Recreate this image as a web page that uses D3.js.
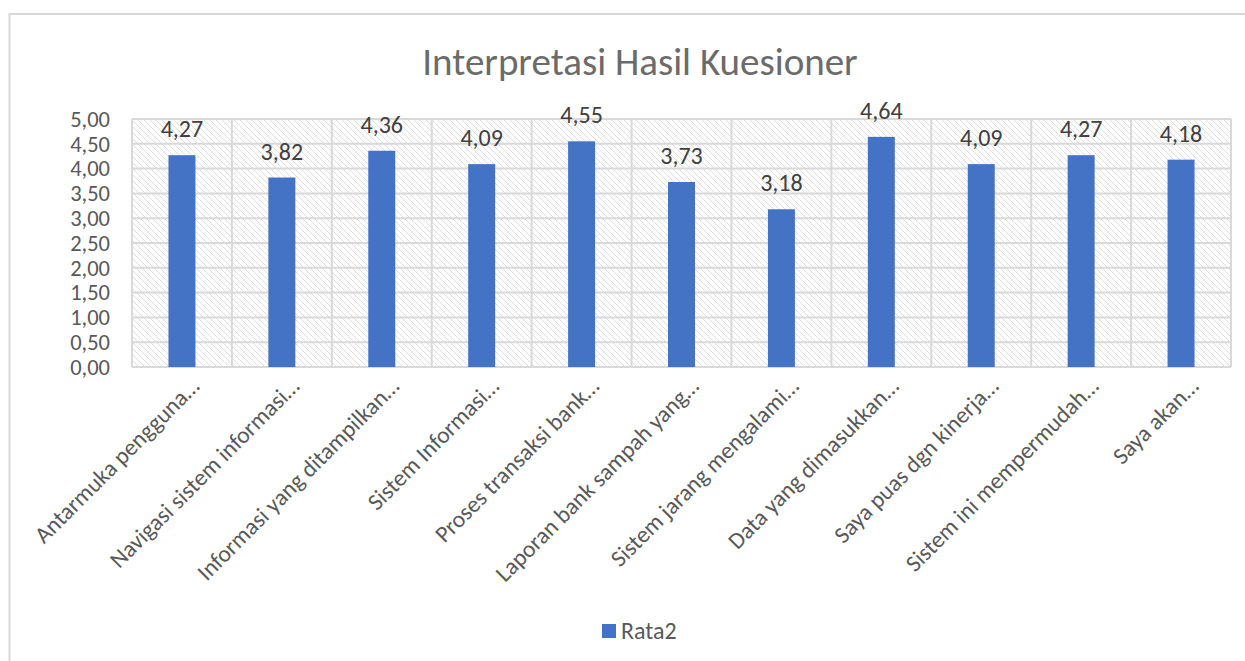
<!DOCTYPE html>
<html><head><meta charset="utf-8">
<script src="https://cdn.jsdelivr.net/npm/d3@7"></script>
<style>body{margin:0;background:#fff;}svg{display:block;font-family:Carlito,Lato,sans-serif;}</style>
</head><body>
<svg id="c" width="1245" height="661"></svg>
<script>
const title = "Interpretasi Hasil Kuesioner";
const categories = [
  "Antarmuka pengguna…",
  "Navigasi sistem informasi…",
  "Informasi yang ditampilkan…",
  "Sistem Informasi…",
  "Proses transaksi bank…",
  "Laporan bank sampah yang…",
  "Sistem jarang mengalami…",
  "Data yang dimasukkan…",
  "Saya puas dgn kinerja…",
  "Sistem ini mempermudah…",
  "Saya akan…"
];
const values = [4.27, 3.82, 4.36, 4.09, 4.55, 3.73, 3.18, 4.64, 4.09, 4.27, 4.18];
const yTicks = [0, 0.5, 1, 1.5, 2, 2.5, 3, 3.5, 4, 4.5, 5];
const seriesName = "Rata2";

const svg = d3.select("#c");
const gray = "#595959", grid = "#d9d9d9", blue = "#4472c4";
const fmt = v => d3.format(".2f")(v).replace(".", ",");

// outer chart border
svg.append("rect").attr("x", 9.5).attr("y", 14).attr("width", 1300).attr("height", 700)
  .attr("fill", "none").attr("stroke", grid).attr("stroke-width", 2);

const defs = svg.append("defs");
const pat = defs.append("pattern").attr("id", "hatch").attr("patternUnits", "userSpaceOnUse")
  .attr("width", 6).attr("height", 6);
pat.append("rect").attr("width", 6).attr("height", 6).attr("fill", "#fff");
pat.append("path").attr("d", "M0,0 L6,6 M-3,3 L3,9 M3,-3 L9,3")
  .attr("stroke", "#dedede").attr("stroke-width", 1);

const L = 132, R = 1231, T = 119, B = 367;
const x = d3.scaleBand().domain(categories).range([L, R]).padding(0);
const y = d3.scaleLinear().domain([0, 5]).range([B, T]);

svg.append("rect").attr("x", L).attr("y", T).attr("width", R - L).attr("height", B - T)
  .attr("fill", "url(#hatch)");

// horizontal gridlines
svg.append("g").selectAll("line").data(yTicks).join("line")
  .attr("x1", L).attr("x2", R).attr("y1", d => y(d)).attr("y2", d => y(d))
  .attr("stroke", grid).attr("stroke-width", 2);
// vertical gridlines at category boundaries
const bounds = categories.map(c => x(c)).concat([R]);
svg.append("g").selectAll("line").data(bounds).join("line")
  .attr("x1", d => d).attr("x2", d => d).attr("y1", T).attr("y2", B)
  .attr("stroke", grid).attr("stroke-width", 2);

// y axis labels
const yAxis = d3.axisLeft(y).tickValues(yTicks).tickFormat(fmt).tickSize(0).tickPadding(0);
const ga = svg.append("g").attr("transform", `translate(${110},0)`).call(yAxis);
ga.select(".domain").remove();
ga.selectAll("text").attr("fill", gray).style("font-size", "22.5px").style("font-family", "Carlito,Lato,sans-serif");

// bars
const bw = x.bandwidth() * 0.27;
svg.append("g").selectAll("rect").data(values).join("rect")
  .attr("x", (d, i) => x(categories[i]) + (x.bandwidth() - bw) / 2)
  .attr("width", bw)
  .attr("y", d => y(d)).attr("height", d => B - y(d))
  .attr("fill", blue);

// data labels
svg.append("g").selectAll("text").data(values).join("text")
  .attr("x", (d, i) => x(categories[i]) + x.bandwidth() / 2)
  .attr("y", d => y(d) - 18)
  .attr("text-anchor", "middle").attr("fill", "#404040")
  .style("font-size", "24px").text(d => fmt(d));

// category labels
svg.append("g").selectAll("text").data(categories).join("text")
  .attr("transform", d => `translate(${x(d) + x.bandwidth() / 2 + 13},${382}) rotate(-45)`)
  .attr("text-anchor", "end").attr("dy", "0.35em").attr("fill", gray)
  .style("font-size", "23.5px").text(d => d);

// title
svg.append("text").attr("x", 640).attr("y", 75).attr("text-anchor", "middle")
  .attr("fill", "#6b6b6b").style("font-size", "39px").text(title);

// legend
svg.append("rect").attr("x", 602).attr("y", 624).attr("width", 14).attr("height", 14).attr("fill", blue);
svg.append("text").attr("x", 621).attr("y", 639).attr("fill", gray).style("font-size", "24px").text(seriesName);
</script>
</body></html>
